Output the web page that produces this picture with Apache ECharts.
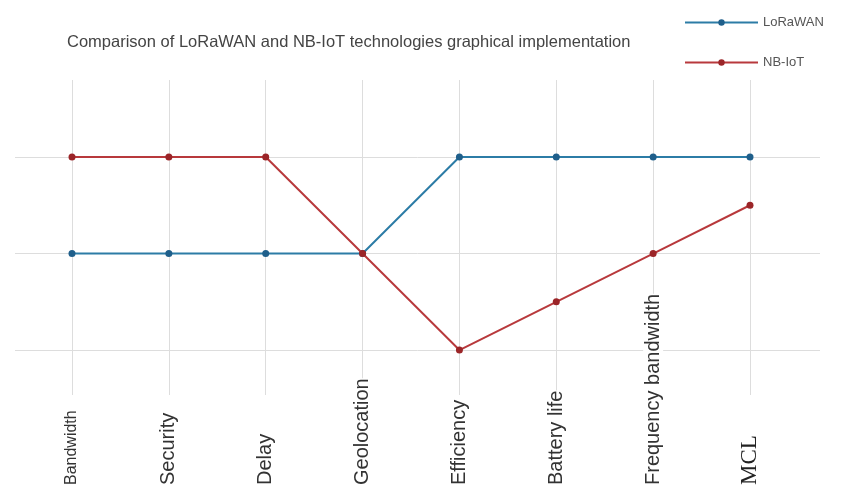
<!DOCTYPE html>
<html>
<head>
<meta charset="utf-8">
<script src="https://cdn.jsdelivr.net/npm/echarts@6/dist/echarts.min.js"></script>
<style>html,body{margin:0;padding:0;background:#fff;}#c{width:841px;height:503px;}</style>
</head>
<body>
<div id="c"></div>
<script>
const categories = ['Bandwidth','Security','Delay','Geolocation','Efficiency','Battery life','Frequency bandwidth','MCL'];
const loraValues = [1, 1, 1, 1, 2, 2, 2, 2];
const nbiotValues = [2, 2, 2, 1, 0, 0.5, 1, 1.5];
const seriesNames = ['LoRaWAN', 'NB-IoT'];
const titleText = 'Comparison of LoRaWAN and NB-IoT technologies graphical implementation';

const labelStyles = {
  'Bandwidth': {fontSize: 16},
  'MCL': {fontSize: 23, fontFamily: 'Liberation Serif, serif', color: '#222'}
};

const chart = echarts.init(document.getElementById('c'));
chart.setOption({
  backgroundColor: '#fff',
  animation: false,
  title: {
    text: titleText, left: 62, top: 29,
    textStyle: {fontSize: 16.5, fontWeight: 'normal', color: '#444', fontFamily: 'Liberation Sans, Arial, sans-serif'}
  },
  legend: {
    orient: 'vertical', left: 679, top: 11, itemWidth: 73, itemHeight: 8, itemGap: 27,
    textStyle: {fontSize: 13, color: '#555', fontFamily: 'Liberation Sans, Arial, sans-serif'},
    data: seriesNames
  },
  grid: [
    {left: 72, right: 91, top: 80, bottom: 108, outerBoundsMode: 'none', containLabel: false},
    {left: 15, right: 21, top: 157, bottom: 153, outerBoundsMode: 'none', containLabel: false},
    {left: 72, right: 91, top: 487, bottom: 2, outerBoundsMode: 'none', containLabel: false}
  ],
  xAxis: [
    {
      type: 'category', gridIndex: 0, boundaryGap: false, data: categories,
      axisLine: {show: false}, axisTick: {show: false}, axisLabel: {show: false, interval: 0},
      splitLine: {show: true, interval: 0, lineStyle: {color: '#dddddd', width: 1}}
    },
    {type: 'value', gridIndex: 1, show: false, min: 0, max: 1},
    {
      type: 'category', gridIndex: 2, position: 'top', boundaryGap: false,
      data: categories.map(c => ({value: c, textStyle: labelStyles[c] || {}})),
      axisLine: {show: false}, axisTick: {show: false}, splitLine: {show: false},
      axisLabel: {
        rotate: 90, margin: 2, interval: 0,
        fontSize: 20, color: '#333', fontFamily: 'Liberation Sans, Arial, sans-serif',
        backgroundColor: '#fff'
      }
    }
  ],
  yAxis: [
    {type: 'value', gridIndex: 0, min: -0.466, max: 2.798, show: false, splitLine: {show: false}},
    {
      type: 'value', gridIndex: 1, min: 0, max: 2, interval: 1,
      axisLine: {show: false}, axisTick: {show: false}, axisLabel: {show: false},
      splitLine: {show: true, lineStyle: {color: '#dddddd', width: 1}}
    },
    {type: 'value', gridIndex: 2, show: false, min: 0, max: 1}
  ],
  series: [
    {
      name: seriesNames[0], type: 'line', xAxisIndex: 0, yAxisIndex: 0, data: loraValues,
      symbol: 'circle', symbolSize: 7, z: 3,
      lineStyle: {color: '#2c7ca6', width: 2},
      itemStyle: {color: '#1f5f8b'}
    },
    {
      name: seriesNames[1], type: 'line', xAxisIndex: 0, yAxisIndex: 0, data: nbiotValues,
      symbol: 'circle', symbolSize: 7, z: 4,
      lineStyle: {color: '#b8393c', width: 2},
      itemStyle: {color: '#9b2528'}
    }
  ]
});
</script>
</body>
</html>
